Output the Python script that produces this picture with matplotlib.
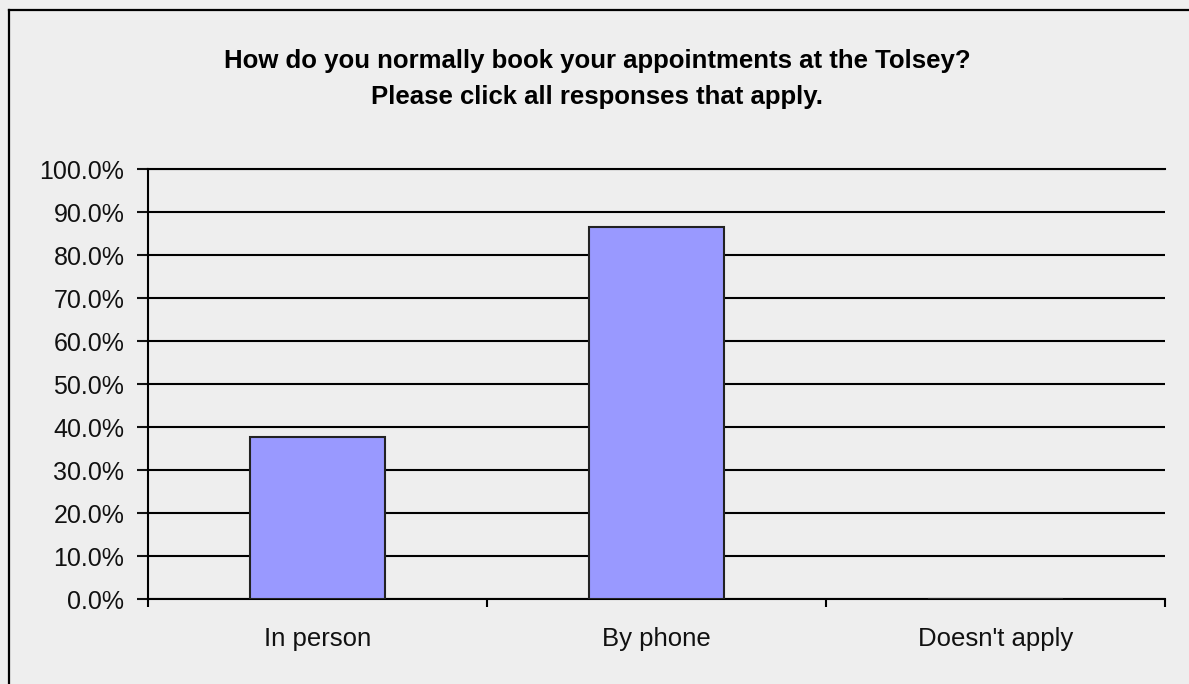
import numpy as np
import matplotlib.pyplot as plt
from matplotlib.lines import Line2D
from matplotlib.ticker import FuncFormatter

plt.rcParams['font.family'] = ['Liberation Sans', 'DejaVu Sans']

categories = ['In person', 'By phone', "Doesn't apply"]
values = [37.7, 86.5, 0.0]
title = 'How do you normally book your appointments at the Tolsey?\nPlease click all responses that apply.'

fig = plt.figure(figsize=(11.8904, 6.8404), dpi=100)
fig.patch.set_facecolor('#eeeeee')

# border on top and left only (the screenshot is cropped on the other sides)
bx = 8.5 / 1189
by = 1 - 10 / 684
fig.add_artist(Line2D([bx, bx], [-0.05, by], transform=fig.transFigure, color='black', linewidth=1.6))
fig.add_artist(Line2D([bx, 1.05], [by, by], transform=fig.transFigure, color='black', linewidth=1.6))

ax = fig.add_axes([148 / 1189, 1 - 599 / 684, (1165 - 148) / 1189, (599 - 169) / 684])
ax.set_facecolor('#eeeeee')

x = np.arange(len(categories))
ax.bar(x, values, width=0.4, color='#9999ff', edgecolor='#222222', linewidth=1.5, zorder=3)

ax.set_xlim(-0.5, 2.5)
ax.set_ylim(0, 100)
ax.set_yticks(np.arange(0, 101, 10))
ax.yaxis.set_major_formatter(FuncFormatter(lambda v, p: '%.1f%%' % v))
ax.yaxis.grid(True, color='black', linewidth=1.5, zorder=0)

ax.set_xticks([-0.5, 0.5, 1.5, 2.5])
ax.set_xticklabels([])
ax.set_xticks(x, minor=True)
ax.set_xticklabels(categories, minor=True)
ax.tick_params(axis='x', which='minor', length=0, pad=20, labelsize=18.5, colors='#111111')
ax.tick_params(axis='x', which='major', length=6, width=1.5, direction='out')
ax.tick_params(axis='y', length=8, width=1.5, labelsize=18, pad=9, colors='#111111')

ax.spines['right'].set_visible(False)
for s in ['left', 'bottom', 'top']:
    ax.spines[s].set_linewidth(1.5)

fig.text(597 / 1189, 1 - 79 / 684, title, ha='center', va='center',
         fontsize=18.5, fontweight='bold', linespacing=1.6)

fig.savefig('out.png', dpi=100, facecolor=fig.get_facecolor())
